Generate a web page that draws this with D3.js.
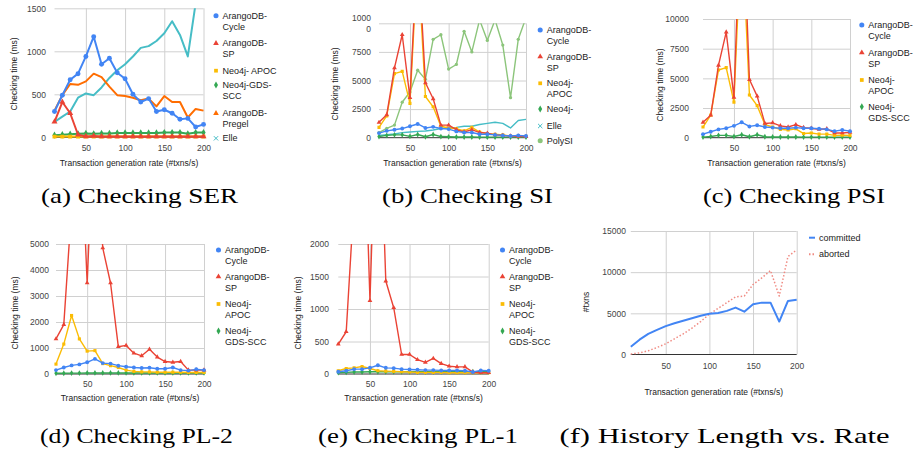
<!DOCTYPE html>
<html>
<head>
<meta charset="utf-8">
<script src="https://d3js.org/d3.v7.min.js"></script>
<style>
  body { margin: 0; background: white; }
  svg text { font-family: "Liberation Sans", Arial, sans-serif; }
  .grid line { stroke: #d0d0d0; stroke-width: 1; }
  .grid .domain { stroke: none; }
  .ticks .domain, .ticks line { stroke: none; }
  .ticks text { font-size: 8.5px; fill: #444; }
  .title { font-size: 8.5px; fill: #222; }
  .legend text { font-size: 9px; fill: #222; }
  .caption { font-family: "Liberation Serif", "Times New Roman", serif !important; font-size: 21px; fill: #000; }
</style>
</head>
<body>
<svg id="fig" width="914" height="452"></svg>
<script>
const rates = [10, 20, 30, 40, 50, 60, 70, 80, 90, 100, 110, 120, 130, 140, 150, 160, 170, 180, 190, 200];

// (a) Checking SER
const serCycle  = [300, 490, 670, 740, 940, 1170, 850, 920, 750, 680, 500, 410, 450, 300, 320, 280, 210, 220, 120, 150];
const serSP     = [180, 410, 280, 30, 10, 15, 10, 10, 8, 8, 8, 8, 8, 8, 8, 8, 8, 8, 8, 8];
const serApoc   = [8, 8, 8, 8, 8, 8, 8, 8, 8, 8, 8, 8, 8, 8, 8, 8, 8, 8, 8, 8];
const serGds    = [25, 30, 35, 40, 45, 40, 45, 45, 50, 50, 50, 50, 50, 50, 55, 55, 55, 40, 55, 55];
const serPregel = [310, 490, 620, 610, 650, 740, 700, 590, 490, 480, 460, 430, 450, 360, 480, 410, 410, 230, 330, 310];
const serElle   = [180, 240, 300, 460, 510, 490, 580, 690, 780, 850, 940, 1040, 1060, 1120, 1210, 1350, 1190, 940, 1560, 1700];

// (b) Checking SI
const siCycle = [400, 600, 700, 800, 1000, 1200, 850, 950, 800, 750, 550, 450, 450, 300, 300, 250, 200, 150, 200, 150];
const siSP    = [1340, 2000, 6100, 9000, 3500, 17000, 4800, 3400, 1100, 1100, 700, 500, 700, 450, 400, 250, 200, 150, 120, 100];
const siApoc  = [900, 1900, 5600, 5800, 3000, 16000, 3600, 2700, 1000, 850, 800, 600, 900, 500, 350, 300, 250, 150, 150, 120];
const siGds   = [100, 200, 250, 250, 120, 280, 80, 280, 100, 80, 60, 60, 60, 50, 50, 50, 50, 50, 50, 50];
const siElle  = [200, 260, 320, 440, 500, 550, 580, 670, 800, 850, 900, 1000, 1000, 1150, 1250, 1350, 1250, 850, 1500, 1600];
const siPoly  = [440, 820, 1100, 3100, 4000, 5900, 5100, 8600, 9000, 6000, 6400, 9300, 7500, 10300, 8500, 10300, 8100, 3500, 8600, 10500];

// (c) Checking PSI
const psiCycle = [300, 500, 700, 800, 1000, 1300, 950, 1050, 900, 850, 800, 800, 850, 800, 800, 750, 700, 550, 650, 550];
const psiSP    = [1300, 1900, 6100, 8900, 3400, 22000, 4900, 3500, 1200, 1250, 1000, 900, 1100, 850, 800, 700, 750, 400, 400, 450];
const psiApoc  = [900, 1900, 5700, 5900, 3000, 18000, 3600, 2700, 1100, 900, 700, 650, 750, 350, 400, 300, 300, 200, 220, 200];
const psiGds   = [50, 100, 200, 200, 100, 250, 80, 250, 80, 60, 60, 60, 60, 50, 50, 50, 50, 50, 50, 50];

// (d) Checking PL-2
const pl2Cycle = [150, 250, 330, 370, 450, 580, 420, 400, 320, 280, 250, 230, 240, 200, 200, 250, 150, 130, 180, 150];
const pl2SP    = [1350, 1900, 6400, 10600, 3500, 10600, 4850, 3500, 1050, 1100, 800, 700, 950, 650, 480, 450, 480, 150, 150, 150];
const pl2Apoc  = [380, 1150, 2250, 1350, 880, 900, 400, 320, 250, 150, 100, 80, 80, 70, 70, 70, 70, 60, 60, 60];
const pl2Gds   = [30, 30, 35, 35, 40, 40, 40, 40, 40, 40, 40, 40, 40, 40, 40, 40, 40, 40, 40, 40];

// (e) Checking PL-1
const pl1Cycle = [35, 50, 75, 75, 95, 135, 95, 90, 75, 70, 65, 60, 60, 55, 55, 55, 50, 30, 55, 50];
const pl1SP    = [460, 650, 2700, 5000, 1130, 5000, 1430, 1020, 300, 300, 220, 180, 240, 160, 120, 110, 110, 30, 20, 20];
const pl1Apoc  = [50, 85, 95, 115, 85, 50, 45, 40, 35, 30, 25, 25, 25, 25, 20, 20, 20, 20, 20, 20];
const pl1Gds   = [20, 25, 30, 30, 35, 35, 35, 35, 35, 35, 35, 35, 35, 35, 35, 35, 35, 35, 35, 35];

// (f) History Length vs. Rate
const committed = [950, 1800, 2500, 3000, 3450, 3800, 4100, 4400, 4700, 4950, 5050, 5300, 5700, 5200, 6100, 6300, 6300, 4000, 6500, 6650];
const aborted   = [50, 200, 450, 850, 1300, 1900, 2500, 3200, 4000, 4900, 5600, 6300, 7000, 7100, 8500, 9300, 10200, 7100, 11900, 12700];

const xTicks = [50, 100, 150, 200];
const captions = ["(a) Checking SER", "(b) Checking SI", "(c) Checking PSI",
                  "(d) Checking PL-2", "(e) Checking PL-1", "(f) History Length vs. Rate"];

const C = {
  cycle: "#4285f4", sp: "#ea4335", apoc: "#fbbc04", gds: "#34a853",
  pregel: "#ff6d01", elle: "#46bdc6", poly: "#8cc57b", aborted: "#f08a82"
};

const svg = d3.select("#fig");

const panels = [
  { left: 54.5, right: 203.5, top: 8.3, bottom: 137.3, yMax: 1500, yTicks: [0, 500, 1000, 1500],
    yLabelX: 46, xTickBase: 150.7, xTitleBase: 166.3, yTitleX: 14, yTitleY: 74, yTitle: "Checking time (ms)",
    lw: 2, ms: 1.2, legX: 222.5, legY: [15.7, 43.3, 70.7, 85, 113.3, 138.3], lh: 11,
    series: [
      { label: ["ArangoDB-", "Cycle"], values: serCycle, color: C.cycle, shape: "circle", marker: true },
      { label: ["ArangoDB-", "SP"], values: serSP, color: C.sp, shape: "triangle", marker: true },
      { label: ["Neo4j- APOC"], values: serApoc, color: C.apoc, shape: "square", marker: true },
      { label: ["Neo4j-GDS-", "SCC"], values: serGds, color: C.gds, shape: "diamond", marker: true },
      { label: ["ArangoDB-", "Pregel"], values: serPregel, color: C.pregel, shape: "triangle", marker: false },
      { label: ["Elle"], values: serElle, color: C.elle, shape: "cross", marker: false }
    ] },
  { left: 379, right: 526, top: 23.3, bottom: 137.7, yMax: 10000, yTicks: [0, 2500, 5000, 7500, 10000], wrapTop: true,
    yLabelX: 371, xTickBase: 150.7, xTitleBase: 166.3, yTitleX: 335, yTitleY: 84, yTitle: "Checking time (ms)",
    lw: 1.4, ms: 0.75, legX: 546.7, legY: [30, 56.7, 83.3, 109, 126, 140.7], lh: 10.7,
    series: [
      { label: ["ArangoDB-", "Cycle"], values: siCycle, color: C.cycle, shape: "circle", marker: true },
      { label: ["ArangoDB-", "SP"], values: siSP, color: C.sp, shape: "triangle", marker: true },
      { label: ["Neo4j-", "APOC"], values: siApoc, color: C.apoc, shape: "square", marker: true },
      { label: ["Neo4j-"], values: siGds, color: C.gds, shape: "diamond", marker: true },
      { label: ["Elle"], values: siElle, color: C.elle, shape: "cross", marker: false },
      { label: ["PolySI"], values: siPoly, color: C.poly, shape: "circle", marker: true }
    ] },
  { left: 703, right: 850, top: 19, bottom: 137.7, yMax: 10000, yTicks: [0, 2500, 5000, 7500, 10000],
    yLabelX: 689, xTickBase: 150.7, xTitleBase: 166.3, yTitleX: 660, yTitleY: 85, yTitle: "Checking time (ms)",
    lw: 1.4, ms: 0.75, legX: 868.3, legY: [25, 52.7, 80, 106.7], lh: 10.7,
    series: [
      { label: ["ArangoDB-", "Cycle"], values: psiCycle, color: C.cycle, shape: "circle", marker: true },
      { label: ["ArangoDB-", "SP"], values: psiSP, color: C.sp, shape: "triangle", marker: true },
      { label: ["Neo4j-", "APOC"], values: psiApoc, color: C.apoc, shape: "square", marker: true },
      { label: ["Neo4j-", "GDS-SCC"], values: psiGds, color: C.gds, shape: "diamond", marker: true }
    ] },
  { left: 56, right: 204, top: 244, bottom: 374, yMax: 5000, yTicks: [0, 1000, 2000, 3000, 4000, 5000],
    yLabelX: 49, xTickBase: 387.3, xTitleBase: 401.3, yTitleX: 15, yTitleY: 313, yTitle: "Checking time (ms)",
    lw: 1.4, ms: 0.75, legX: 225, legY: [250, 276.7, 304, 331], lh: 11,
    series: [
      { label: ["ArangoDB-", "Cycle"], values: pl2Cycle, color: C.cycle, shape: "circle", marker: true },
      { label: ["ArangoDB-", "SP"], values: pl2SP, color: C.sp, shape: "triangle", marker: true },
      { label: ["Neo4j-", "APOC"], values: pl2Apoc, color: C.apoc, shape: "square", marker: true },
      { label: ["Neo4j-", "GDS-SCC"], values: pl2Gds, color: C.gds, shape: "diamond", marker: true }
    ] },
  { left: 338.3, right: 488.7, top: 244, bottom: 374, yMax: 2000, yTicks: [0, 500, 1000, 1500, 2000],
    yLabelX: 329, xTickBase: 387.3, xTitleBase: 401.3, yTitleX: 298, yTitleY: 313, yTitle: "Checking time (ms)",
    lw: 1.4, ms: 0.75, legX: 509, legY: [250, 276.7, 304, 331], lh: 11,
    series: [
      { label: ["ArangoDB-", "Cycle"], values: pl1Cycle, color: C.cycle, shape: "circle", marker: true },
      { label: ["ArangoDB-", "SP"], values: pl1SP, color: C.sp, shape: "triangle", marker: true },
      { label: ["Neo4j-", "APOC"], values: pl1Apoc, color: C.apoc, shape: "square", marker: true },
      { label: ["Neo4j-", "GDS-SCC"], values: pl1Gds, color: C.gds, shape: "diamond", marker: true }
    ] },
  { left: 630.8, right: 796.7, top: 231, bottom: 354.5, yMax: 15000, yTicks: [0, 5000, 10000, 15000],
    yLabelX: 626, xTickBase: 368.7, xTitleBase: 394.7, yTitleX: 586, yTitleY: 302, yTitle: "#txns",
    lw: 2, ms: 1, legX: 819, legY: [237.7, 254.3], lh: 11, lineLegend: true,
    series: [
      { label: ["committed"], values: committed, color: C.cycle, marker: false },
      { label: ["aborted"], values: aborted, color: C.aborted, marker: false, dash: "1.5,2", lw: 1.5 }
    ] }
];

const shapes = {
  circle: d3.symbolCircle, triangle: d3.symbolTriangle, square: d3.symbolSquare,
  diamond: d3.symbolDiamond, cross: d3.symbolX
};

panels.forEach((p, i) => {
  const x = d3.scaleLinear().domain([10, 200]).range([p.left, p.right]);
  const y = d3.scaleLinear().domain([0, p.yMax]).range([p.bottom, p.top]);
  const g = svg.append("g");

  // gridlines
  g.append("g").attr("class", "grid")
    .attr("transform", `translate(0,${p.bottom})`)
    .call(d3.axisBottom(x).tickValues(xTicks).tickSize(-(p.bottom - p.top)).tickFormat(""));
  g.append("g").attr("class", "grid")
    .attr("transform", `translate(${p.left},0)`)
    .call(d3.axisLeft(y).tickValues(p.yTicks.slice(1)).tickSize(-(p.right - p.left)).tickFormat(""));

  // tick labels
  g.append("g").attr("class", "ticks")
    .attr("transform", `translate(0,${p.bottom})`)
    .call(d3.axisBottom(x).tickValues(xTicks).tickSize(0).tickPadding(p.xTickBase - 6 - p.bottom));
  const yAx = g.append("g").attr("class", "ticks")
    .attr("transform", `translate(${p.left},0)`)
    .call(d3.axisLeft(y).tickValues(p.yTicks).tickSize(0).tickPadding(p.left - p.yLabelX).tickFormat(d3.format("d")));
  if (p.wrapTop) {
    // the top label is broken over two lines in the original
    yAx.selectAll(".tick text").filter(d => d === p.yMax).each(function () {
      const t = d3.select(this).text("").attr("dy", null);
      t.append("tspan").attr("x", -(p.left - p.yLabelX)).attr("y", -2.6).text("1000");
      t.append("tspan").attr("x", -(p.left - p.yLabelX)).attr("y", 8.7).text("0");
    });
  }

  // zero baseline
  g.append("line")
    .attr("x1", p.left).attr("x2", p.right)
    .attr("y1", y(0)).attr("y2", y(0))
    .attr("stroke", "#333").attr("stroke-width", 1);

  // axis titles
  g.append("text").attr("class", "title")
    .attr("x", (p.left + p.right) / 2).attr("y", p.xTitleBase)
    .attr("text-anchor", "middle")
    .text("Transaction generation rate (#txns/s)");
  g.append("text").attr("class", "title")
    .attr("transform", `translate(${p.yTitleX + 3},${p.yTitleY}) rotate(-90)`)
    .attr("text-anchor", "middle")
    .text(p.yTitle);

  // series
  const clipId = "clip" + i;
  svg.append("clipPath").attr("id", clipId).append("rect")
    .attr("x", p.left - 5).attr("y", p.top)
    .attr("width", p.right - p.left + 10).attr("height", p.bottom - p.top + 5);
  const area = g.append("g").attr("clip-path", `url(#${clipId})`);

  const line = d3.line().x((d, j) => x(rates[j])).y(d => y(d));
  // draw in reverse so the first series sits on top
  p.series.slice().reverse().forEach(s => {
    area.append("path")
      .attr("d", line(s.values))
      .attr("fill", "none")
      .attr("stroke", s.color)
      .attr("stroke-width", s.lw || p.lw)
      .attr("stroke-dasharray", s.dash || null)
      .attr("stroke-linejoin", "round");
    if (s.marker) {
      const sz = (s.shape === "circle" ? 16 : 13) * p.ms * (s.values === siPoly ? 0.7 : 1);
      area.selectAll(null).data(s.values).join("path")
        .attr("transform", (d, j) => `translate(${x(rates[j])},${y(d)})`)
        .attr("d", d3.symbol(shapes[s.shape], sz))
        .attr("fill", s.color);
    }
  });

  // legend
  const lg = g.append("g").attr("class", "legend");
  p.series.forEach((s, k) => {
    const ly = p.legY[k];
    if (p.lineLegend) {
      lg.append("line")
        .attr("x1", p.legX - 10).attr("x2", p.legX - 4)
        .attr("y1", ly).attr("y2", ly)
        .attr("stroke", s.color).attr("stroke-width", 2)
        .attr("stroke-dasharray", s.dash || null);
    } else {
      lg.append("path")
        .attr("transform", `translate(${p.legX - 6.5},${ly})`)
        .attr("d", d3.symbol(shapes[s.shape], s.shape === "circle" ? 20 : 14))
        .attr("fill", s.color)
        .attr("stroke", s.shape === "cross" ? s.color : "none");
    }
    s.label.forEach((t, m) => {
      lg.append("text")
        .attr("x", p.legX).attr("y", ly + m * p.lh)
        .attr("dy", "0.35em")
        .text(t);
    });
  });
});

// captions
const capPos = [
  { cx: 139.5, y: 203, w: 197 }, { cx: 467.5, y: 203, w: 171 }, { cx: 794, y: 203, w: 182 },
  { cx: 136.5, y: 443, w: 193 }, { cx: 418, y: 443, w: 200 }, { cx: 724.5, y: 443, w: 330 }
];
captions.forEach((c, i) => {
  svg.append("text").attr("class", "caption")
    .attr("x", capPos[i].cx - capPos[i].w / 2).attr("y", capPos[i].y)
    .attr("textLength", capPos[i].w)
    .attr("lengthAdjust", "spacingAndGlyphs")
    .text(c);
});
</script>
</body>
</html>
